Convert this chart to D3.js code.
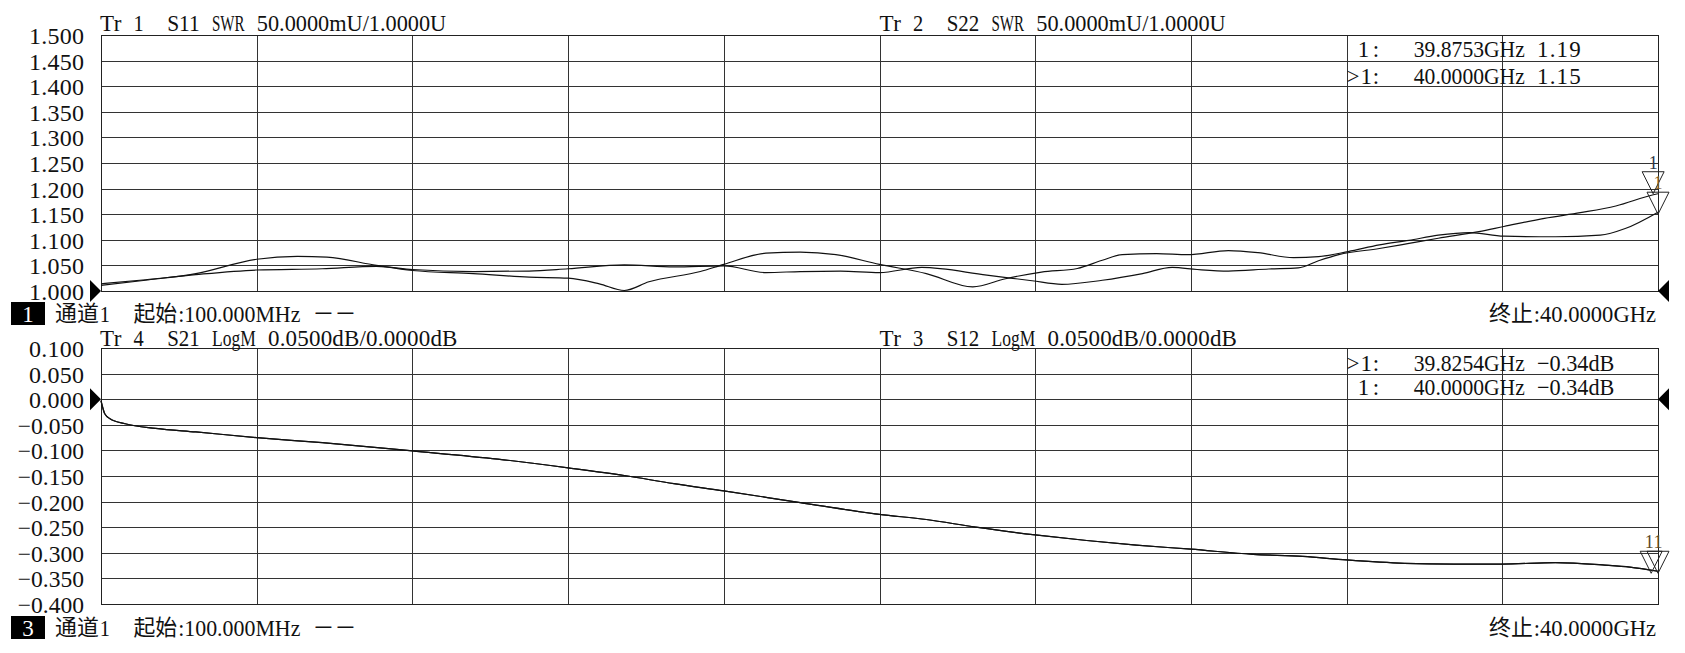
<!DOCTYPE html>
<html lang="zh">
<head>
<meta charset="utf-8">
<title>VNA</title>
<script src="https://cdnjs.cloudflare.com/ajax/libs/d3/7.8.5/d3.min.js"></script>
<style>
body { margin: 0; background: #fff; }
.grid line { stroke: #333; stroke-width: 1; shape-rendering: crispEdges; }
.grid path { display: none; }
text { font-family: "Liberation Serif", "Noto Sans CJK SC", serif; }
.trace { fill: none; stroke: #111; stroke-width: 1.2; }
</style>
</head>
<body>
<script>
var W = 1685, H = 653;
var left = 101, right = 1658;
var fStart = 0.1, fStop = 40;   // GHz

// upper panel: SWR
var swrTicks  = [1.5, 1.45, 1.4, 1.35, 1.3, 1.25, 1.2, 1.15, 1.1, 1.05, 1.0];
var swrLabels = ["1.500","1.450","1.400","1.350","1.300","1.250","1.200","1.150","1.100","1.050","1.000"];

var s11Freq = [0.1,1.24,2.53,4.09,5.13,5.89,7.16,8.08,9.64,11.07,12.07,12.87,13.51,14.14,15.46,16.06,17.14,18.02,18.93,20.05,21.25,22.44,23.28,24.20,25.12,25.76,26.27,27.15,27.95,28.99,29.75,30.66,31.30,32.06,32.86,33.62,34.37,35.17,36.05,37.37,38.52,39.16,40.0];
var s11Swr  = [1.011,1.021,1.034,1.062,1.0675,1.066,1.050,1.040,1.034,1.027,1.025,1.014,1.001,1.018,1.038,1.052,1.074,1.076,1.071,1.052,1.034,1.008,1.024,1.037,1.044,1.060,1.071,1.073,1.071,1.079,1.075,1.065,1.067,1.077,1.090,1.099,1.109,1.114,1.107,1.106,1.109,1.122,1.154];

var s22Freq = [0.1,1.24,2.53,4.09,5.77,7.16,8.08,9.64,11.07,12.07,13.51,14.78,16.06,17.14,18.02,19.05,20.05,21.13,22.80,23.96,24.72,25.76,26.79,27.55,28.19,28.99,30.03,30.78,31.30,31.82,32.86,33.62,34.37,35.41,36.05,37.09,38.01,38.92,39.88,40.0];
var s22Swr  = [1.014,1.022,1.032,1.041,1.0435,1.048,1.042,1.038,1.039,1.0435,1.051,1.047,1.049,1.036,1.038,1.039,1.036,1.046,1.031,1.020,1.013,1.021,1.034,1.046,1.042,1.039,1.043,1.045,1.059,1.071,1.083,1.093,1.103,1.116,1.126,1.142,1.153,1.166,1.188,1.190];

// lower panel: LogM
var dbTicks  = [0.1, 0.05, 0, -0.05, -0.1, -0.15, -0.2, -0.25, -0.3, -0.35, -0.4];
var dbLabels = ["0.100","0.050","0.000","\u22120.050","\u22120.100","\u22120.150","\u22120.200","\u22120.250","\u22120.300","\u22120.350","\u22120.400"];

var s21Freq = [0.1,0.2,0.33,0.72,1.50,2.53,4.09,5.77,8.08,10.27,12.07,13.51,14.78,16.06,18.02,20.05,21.25,22.52,24.04,25.36,26.63,28.03,29.63,30.90,32.02,33.50,34.77,36.01,37.37,38.64,39.28,40.0];
var s21Db   = [-0.003,-0.029,-0.038,-0.048,-0.057,-0.064,-0.075,-0.085,-0.101,-0.117,-0.134,-0.149,-0.165,-0.179,-0.202,-0.225,-0.235,-0.250,-0.265,-0.276,-0.285,-0.293,-0.303,-0.307,-0.314,-0.3205,-0.322,-0.322,-0.319,-0.324,-0.328,-0.336];
// S12 lies on top of S21 in the picture
var s12Freq = s21Freq.slice();
var s12Db   = s21Db.slice();

var mk1Freq = [39.8753, 40.0], mk1Val = [1.19, 1.15];
var mk1Text = [" 1:   39.8753GHz 1.19", ">1:   40.0000GHz 1.15"];
var mk2Freq = [39.8254, 40.0], mk2Val = [-0.34, -0.34];
var mk2Text = [">1:   39.8254GHz \u22120.34dB", " 1:   40.0000GHz \u22120.34dB"];

// analyzer font: every character sits in a fixed cell (half / full width)
var CW = 11.2;
function isWide(c) { return c.charCodeAt(0) >= 0x2E80; }
function cellW(c) { return isWide(c) ? 2 * CW : CW; }
function label(g, x, y, s, anchor, size, color) {
  var chars = Array.from(s), total = 0;
  chars.forEach(function(c) { total += cellW(c); });
  var x0 = anchor === "end" ? x - total : anchor === "middle" ? x - total / 2 : x;
  var runs = [], cur = null, pos = x0;
  chars.forEach(function(c) {
    if (c === " ") { cur = null; }
    else {
      if (!cur || cur.wide !== isWide(c)) { cur = { x: pos, s: "", w: 0, wide: isWide(c) }; runs.push(cur); }
      cur.s += c; cur.w += cellW(c);
    }
    pos += cellW(c);
  });
  runs.forEach(function(r) {
    var fs = (size || 23) - (r.wide ? 1 : 0);
    var t = g.append("text").attr("x", r.x.toFixed(1)).attr("y", r.wide ? y - 1 : y)
      .attr("font-size", fs)
      .style("fill", color || "#111")
      .text(r.s);
    if (r.wide) t.style("font-family", "'Noto Sans CJK SC', sans-serif");
    var target = r.w - 1;
    var w = t.node().getComputedTextLength();
    t.attr("textLength", target.toFixed(1))
     .attr("lengthAdjust", w > target ? "spacingAndGlyphs" : "spacing");
  });
}

var svg = d3.select("body").append("svg").attr("width", W).attr("height", H);
svg.append("rect").attr("width", W).attr("height", H).attr("fill", "#fff");

var x = d3.scaleLinear().domain([fStart, fStop]).range([left, right]);
var xGrid = d3.range(11).map(function(i) { return fStart + i * (fStop - fStart) / 10; });

function panel(cfg) {
  var y = d3.scaleLinear().domain(cfg.domain).range([cfg.bottom, cfg.top]);

  svg.append("g").attr("class", "grid")
    .attr("transform", "translate(0," + cfg.bottom + ")")
    .call(d3.axisBottom(x).tickValues(xGrid).tickSize(-(cfg.bottom - cfg.top)).tickFormat(""));

  svg.append("g").attr("class", "grid")
    .attr("transform", "translate(" + left + ",0)")
    .call(d3.axisLeft(y).tickValues(cfg.ticks).tickSize(-(right - left)).tickFormat(""));

  cfg.ticks.forEach(function(d, i) {
    label(svg, left - 16, y(d) + 9, cfg.labels[i], "end", 24);
  });

  svg.append("rect")
    .attr("x", left).attr("y", cfg.top)
    .attr("width", right - left).attr("height", cfg.bottom - cfg.top)
    .attr("fill", "none").attr("stroke", "#222").attr("stroke-width", 1)
    .attr("shape-rendering", "crispEdges");

  label(svg, 100, cfg.top - cfg.titleGap, cfg.title1);
  label(svg, x(xGrid[5]), cfg.top - cfg.titleGap, cfg.title2);

  var line = d3.line()
    .x(function(d) { return x(d[0]); })
    .y(function(d) { return y(d[1]); })
    .curve(d3.curveMonotoneX);
  cfg.traces.forEach(function(t) {
    svg.append("path").attr("class", "trace")
      .attr("d", line(d3.zip(t[0], t[1])));
  });

  // marker readout
  cfg.mkText.forEach(function(s, i) {
    label(svg, x(xGrid[8]), cfg.top + cfg.mkBase[i], s);
  });

  // marker triangles
  cfg.mkFreq.forEach(function(f, i) {
    var px = x(f), py = y(cfg.mkVal[i]);
    svg.append("path")
      .attr("d", "M" + (px - 11) + "," + (py - 22) + "L" + (px + 11) + "," + (py - 22) + "L" + px + "," + py + "Z")
      .attr("fill", "none").attr("stroke", "#222").attr("stroke-width", 1);
    svg.append("text")
      .attr("x", px + cfg.mkLabelDx[i]).attr("y", py - 25)
      .attr("text-anchor", "middle").attr("font-size", 18)
      .style("fill", cfg.mkColor[i]).text("1");
  });

  // reference level arrows
  var ry = y(cfg.refLevel);
  svg.append("path")
    .attr("d", "M" + (left - 11) + "," + (ry - 11) + "L" + left + "," + ry + "L" + (left - 11) + "," + (ry + 11) + "Z")
    .attr("fill", "#000");
  svg.append("path")
    .attr("d", "M" + (right + 11) + "," + (ry - 11) + "L" + right + "," + ry + "L" + (right + 11) + "," + (ry + 11) + "Z")
    .attr("fill", "#000");

  // channel status line
  var sb = cfg.statusBase;
  svg.append("rect").attr("x", 11).attr("y", sb - 20).attr("width", 34).attr("height", 23).attr("fill", "#000");
  svg.append("text").attr("x", 28).attr("y", sb).attr("text-anchor", "middle")
    .attr("font-size", 23).style("fill", "#fff").text(cfg.chNum);
  label(svg, 55, sb, "通道1  起始:100.000MHz \uFF0D\uFF0D");
  label(svg, right - 1, sb, "终止:40.0000GHz", "end");
}

panel({
  domain: [1.0, 1.5], top: 35, bottom: 291, titleGap: 4,
  ticks: swrTicks, labels: swrLabels,
  title1: "Tr 1  S11 SWR 50.0000mU/1.0000U",
  title2: "Tr 2  S22 SWR 50.0000mU/1.0000U",
  traces: [[s11Freq, s11Swr], [s22Freq, s22Swr]],
  mkText: mk1Text, mkBase: [22, 49],
  mkFreq: mk1Freq, mkVal: mk1Val, mkLabelDx: [0, 0], mkColor: ["#2e3648", "#7a5a2a"],
  refLevel: 1.0, chNum: "1", statusBase: 322
});

panel({
  domain: [-0.4, 0.1], top: 348, bottom: 604, titleGap: 2,
  ticks: dbTicks, labels: dbLabels,
  title1: "Tr 4  S21 LogM 0.0500dB/0.0000dB",
  title2: "Tr 3  S12 LogM 0.0500dB/0.0000dB",
  traces: [[s21Freq, s21Db], [s12Freq, s12Db]],
  mkText: mk2Text, mkBase: [23, 47],
  mkFreq: mk2Freq, mkVal: mk2Val, mkLabelDx: [-2, 0], mkColor: ["#5a4a2a", "#5a4a2a"],
  refLevel: 0, chNum: "3", statusBase: 636
});
</script>
</body>
</html>
